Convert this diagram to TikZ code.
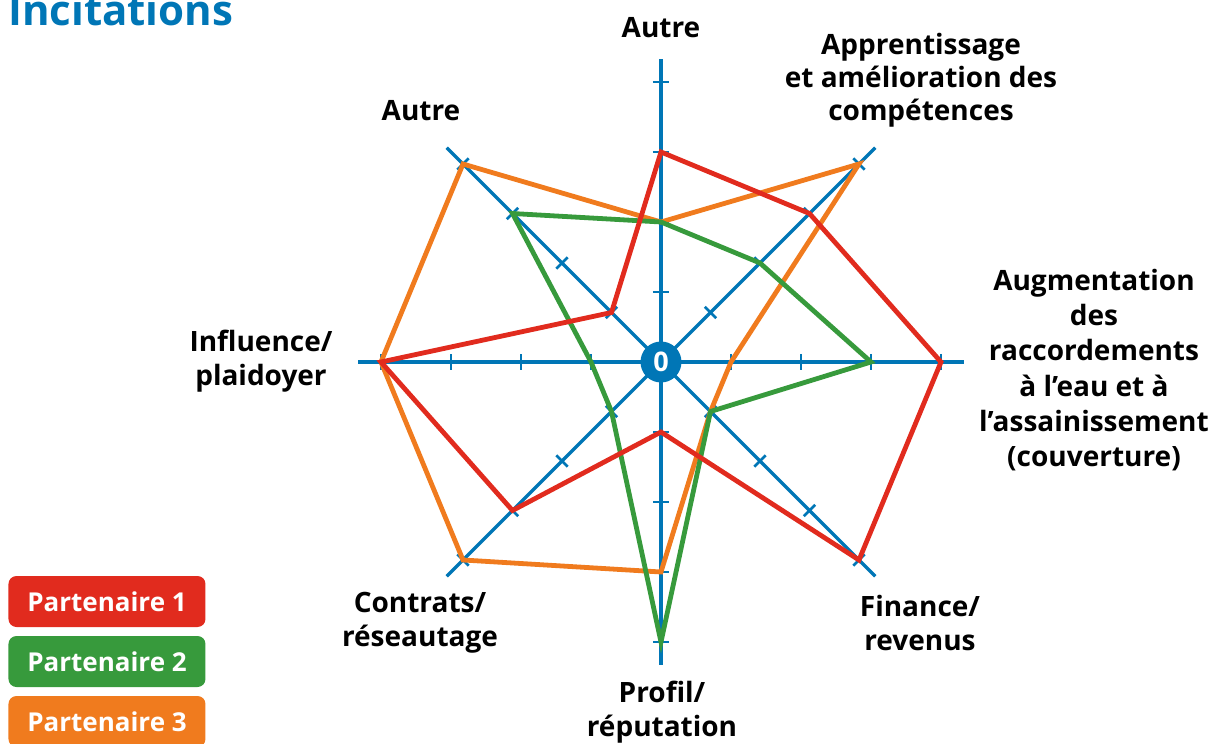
\documentclass[tikz,border=0pt]{standalone}
\usepackage{fontspec}
\setmainfont{Open Sans}
\usetikzlibrary{calc}
\definecolor{axblue}{HTML}{0076B6}
\definecolor{pred}{HTML}{E12B1E}
\definecolor{pgreen}{HTML}{379A3C}
\definecolor{porange}{HTML}{F07B1E}
\begin{document}
\begin{tikzpicture}[x=1pt,y=1pt,
 axis/.style={draw=axblue,line width=3.4pt},
 tickmark/.style={draw=axblue,line width=2.8pt},
 series/.style={line width=4.8pt,line join=miter},
 lbl/.style={font=\fontsize{28}{34}\selectfont\bfseries,align=center,text=black,inner sep=0pt},
 legend/.style={fill=#1,rounded corners=8pt,minimum width=197pt,minimum height=51pt,text=white,font=\fontsize{26}{30}\selectfont\bfseries,inner sep=0pt}]
\useasboundingbox (-661,-382) rectangle (552,362);
\coordinate (O) at (0,0);
% axes
\foreach \a [count=\i] in {90,45,0,-45,-90,-135,180,135}{
  \coordinate (E\i) at (\a:303);
  \draw[axis] (O) -- (E\i);
  \foreach \r in {1,2,3,4}{
    \draw[tickmark] ($(O)+(\a:\r*70)+(\a+90:8)$) -- ($(O)+(\a:\r*70)+(\a-90:8)$);
  }
}
% data points
\foreach \v [count=\i] in {3,3,4,4,1,3,4,1}{\coordinate (R\i) at ({135-45*\i}:{\v*70});}
\foreach \v [count=\i] in {2,2,3,1,4,1,1,3}{\coordinate (G\i) at ({135-45*\i}:{\v*70});}
\foreach \v [count=\i] in {2,4,1,1,3,4,4,4}{\coordinate (P\i) at ({135-45*\i}:{\v*70});}
\draw[series,porange] (P1) -- (P2) -- (P3) -- (P4) -- (P5) -- (P6) -- (P7) -- (P8) -- cycle;
\draw[series,pgreen] (G1) -- (G2) -- (G3) -- (G4) -- (G5) -- (G6) -- (G7) -- (G8) -- cycle;
\draw[series,pred] (R1) -- (R2) -- (R3) -- (R4) -- (R5) -- (R6) -- (R7) -- (R8) -- cycle;
% centre
\node[circle,fill=axblue,minimum size=41pt,inner sep=0pt,text=white,font=\fontsize{27}{30}\selectfont\bfseries] (C) at (O) {0};
% labels
\node[lbl] (lAutreN) at (0,334) {Autre};
\node[lbl,font=\fontsize{28}{33}\selectfont\bfseries] (lApp) at (260,282) {Apprentissage\\et amélioration des\\compétences};
\node[lbl,font=\fontsize{28}{35.2}\selectfont\bfseries] (lAug) at (433,-8) {Augmentation\\des\\raccordements\\à l’eau et à\\l’assainissement\\(couverture)};
\node[lbl] (lFin) at (259,-261) {Finance/\\revenus};
\node[lbl] (lProf) at (1,-350) {Profil/\\réputation};
\node[lbl] (lCont) at (-241,-261) {Contrats/\\réseautage};
\node[lbl] (lInf) at (-400,1) {Influence/\\plaidoyer};
\node[lbl] (lAutreNW) at (-240,251) {Autre};
% title
\node[anchor=base west,font=\fontsize{42}{46}\selectfont\bfseries,text=axblue,inner sep=0pt] (title) at (-653,336) {Incitations};
% legend
\node[legend=pred] (leg1) at (-554,-239.5) {Partenaire 1};
\node[legend=pgreen] (leg2) at (-554,-299.5) {Partenaire 2};
\node[legend=porange] (leg3) at (-554,-359.5) {Partenaire 3};
\end{tikzpicture}
\end{document}
